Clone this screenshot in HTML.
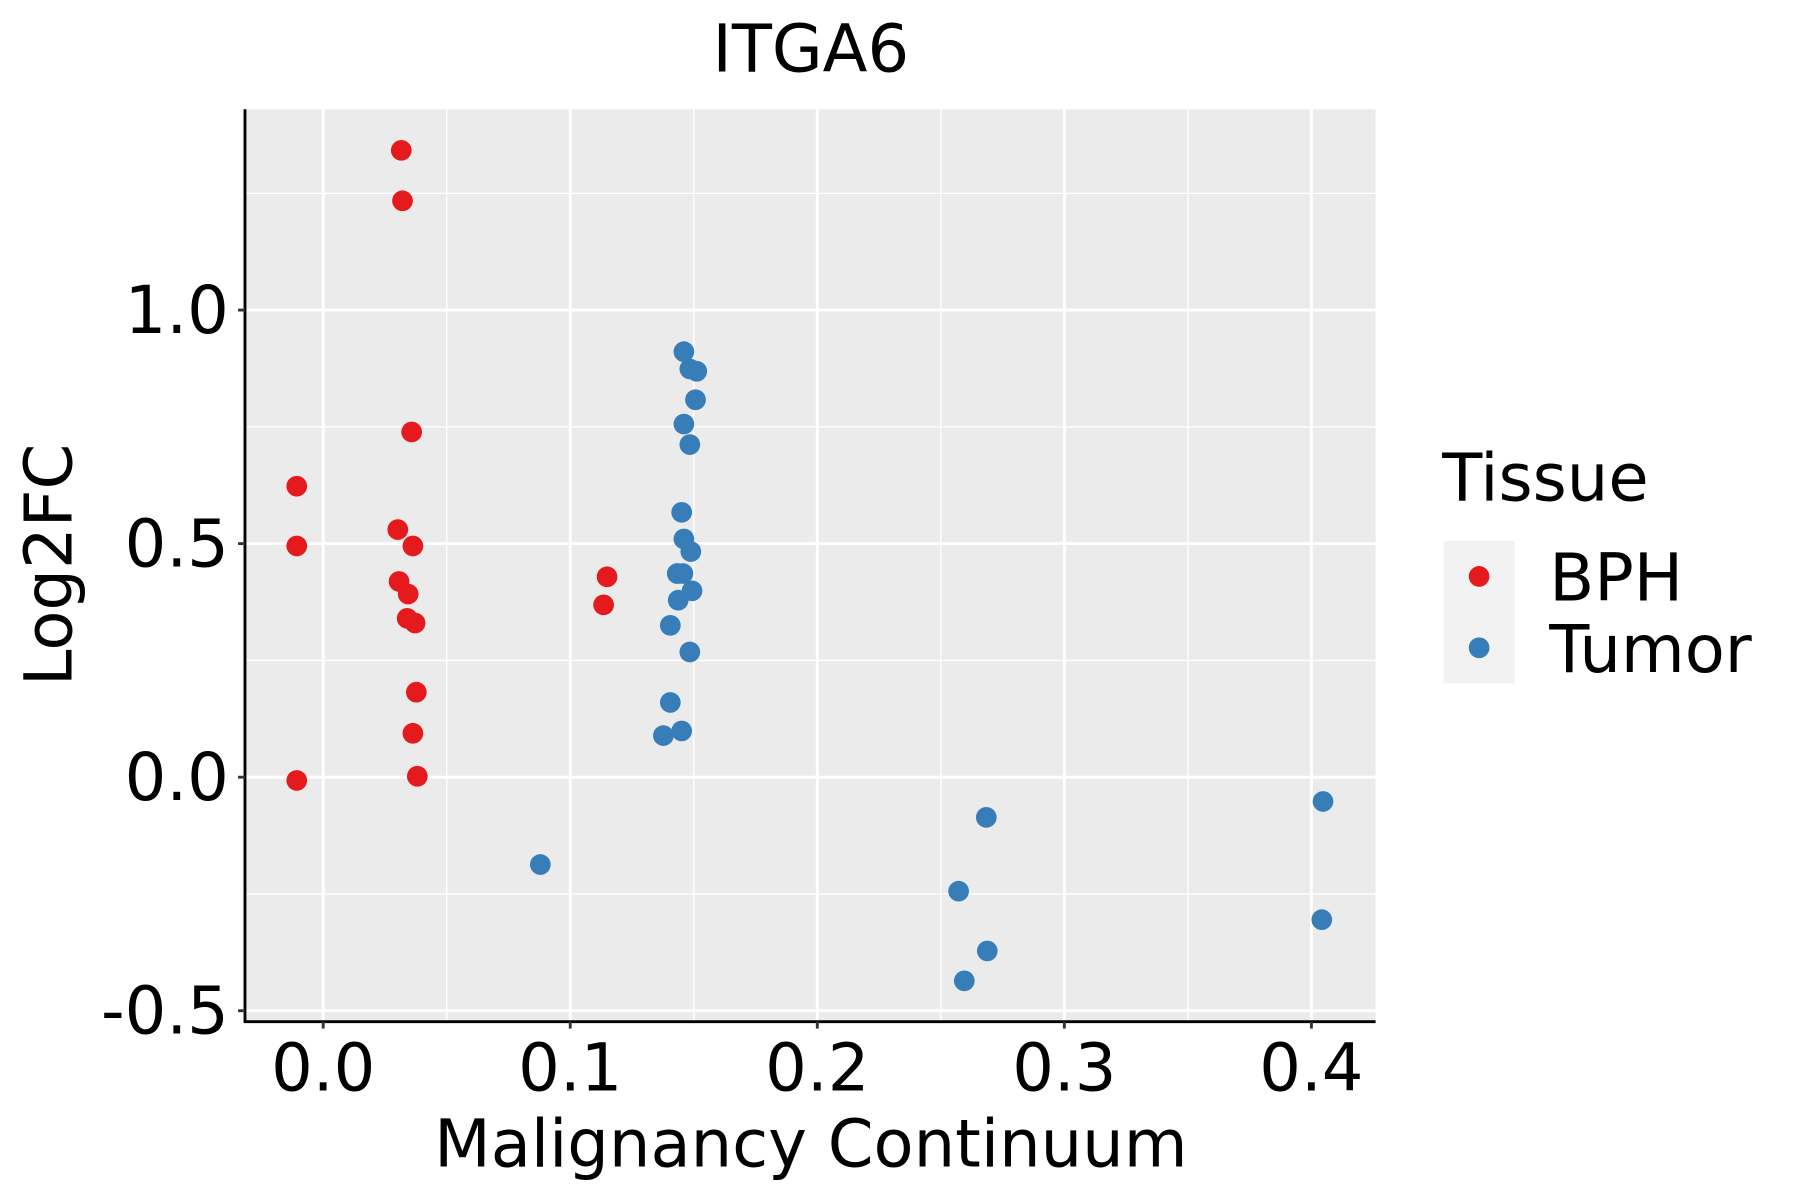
<!DOCTYPE html>
<html><head><meta charset="utf-8"><style>
html,body{margin:0;padding:0;background:#fff;}
svg{display:block;font-family:"DejaVu Sans","Liberation Sans",sans-serif;}
</style></head><body>
<svg id="chart" width="1800" height="1200" viewBox="0 0 1565 1043" preserveAspectRatio="none" xmlns="http://www.w3.org/2000/svg">
<rect x="0" y="0" width="1565" height="1043" fill="#fff"/>
<rect x="213" y="95" width="983" height="793" fill="#ebebeb"/>
<g id="grid"></g>
<g id="points"></g>
<line x1="213" y1="95" x2="213" y2="889" stroke="#000" stroke-width="2.5"/>
<line x1="212" y1="888" x2="1196" y2="888" stroke="#000" stroke-width="2.5"/>
<g id="ticks"></g>
<text x="705" y="62" font-size="57" text-anchor="middle" fill="#000">ITGA6</text>
<text x="705" y="1014" font-size="57" text-anchor="middle" fill="#000">Malignancy Continuum</text>
<text transform="translate(62,491) rotate(-90)" font-size="57" text-anchor="middle" fill="#000">Log2FC</text>
<g>
<text x="1254" y="435" font-size="57" fill="#000">Tissue</text>
<rect x="1255" y="470" width="62" height="62" fill="#f2f2f2"/>
<rect x="1255" y="532" width="62" height="62" fill="#f2f2f2"/>
<circle cx="1286" cy="501" r="9" fill="#E41A1C"/>
<circle cx="1286" cy="563" r="9" fill="#377EB8"/>
<text x="1347" y="522" font-size="57" fill="#000">BPH</text>
<text x="1347" y="584" font-size="57" fill="#000">Tumor</text>
</g>
</svg>
<script>
const xTicks = [0.0, 0.1, 0.2, 0.3, 0.4];
const xTickLabels = ["0.0", "0.1", "0.2", "0.3", "0.4"];
const yTicks = [-0.5, 0.0, 0.5, 1.0];
const yTickLabels = ["-0.5", "0.0", "0.5", "1.0"];
const bphX = [0.0316, 0.0321, 0.0358, -0.0107, -0.0107, 0.0302, 0.0363, 0.0307, 0.0344, 0.034, 0.0372, 0.0377, 0.0363, 0.0381, -0.0107, 0.1149, 0.1135];
const bphY = [1.342, 1.234, 0.739, 0.623, 0.495, 0.530, 0.495, 0.419, 0.392, 0.340, 0.330, 0.182, 0.094, 0.002, -0.007, 0.429, 0.369];
const tumorX = [0.146, 0.1484, 0.1512, 0.1507, 0.146, 0.1484, 0.1451, 0.146, 0.1488, 0.1433, 0.1456, 0.1437, 0.1493, 0.1405, 0.1484, 0.1405, 0.1377, 0.1451, 0.0879, 0.2684, 0.2572, 0.2688, 0.2595, 0.4047, 0.4042];
const tumorY = [0.911, 0.874, 0.869, 0.808, 0.756, 0.712, 0.567, 0.510, 0.483, 0.436, 0.436, 0.379, 0.399, 0.325, 0.268, 0.160, 0.089, 0.099, -0.187, -0.086, -0.244, -0.372, -0.436, -0.052, -0.305];

const NS = "http://www.w3.org/2000/svg";
const xScale = v => 281 + v * 2148;
const yScale = v => 675.5 - v * 406;
const grid = document.getElementById('grid');
const ticks = document.getElementById('ticks');
const pts = document.getElementById('points');
function mk(tag, attrs, parent) {
  const e = document.createElementNS(NS, tag);
  for (const k in attrs) e.setAttribute(k, attrs[k]);
  parent.appendChild(e);
  return e;
}
for (let i = 0; i < xTicks.length - 1; i++) {
  const m = (xTicks[i] + xTicks[i + 1]) / 2;
  const l = mk('line', {x1: xScale(m), x2: xScale(m), y1: 95, y2: 888, stroke: '#fff', 'stroke-width': 1.2}, grid);
  
  
}
const yMinor = [-0.25, 0.25, 0.75, 1.25];
yMinor.forEach(m => {
  const l = mk('line', {x1: 213, x2: 1196, y1: yScale(m), y2: yScale(m), stroke: '#fff', 'stroke-width': 1.2}, grid);
  
  
});
xTicks.forEach((v, i) => {
  const x = xScale(v);
  const g = mk('line', {x1: x, x2: x, y1: 95, y2: 888, stroke: '#fff', 'stroke-width': 2.5}, grid);
  
  
  const t = mk('line', {x1: x, x2: x, y1: 888, y2: 894, stroke: '#333', 'stroke-width': 2.5}, ticks);
  
  
  const tx = mk('text', {x: x, y: 948, 'font-size': 57, 'text-anchor': 'middle', fill: '#000'}, ticks);
  tx.textContent = xTickLabels[i];
  
  
});
yTicks.forEach((v, i) => {
  const y = yScale(v);
  const g = mk('line', {x1: 213, x2: 1196, y1: y, y2: y, stroke: '#fff', 'stroke-width': 2.5}, grid);
  
  
  const t = mk('line', {x1: 207, x2: 213, y1: y, y2: y, stroke: '#333', 'stroke-width': 2.5}, ticks);
  
  
  const tx = mk('text', {x: 199, y: y + 20, 'font-size': 57, 'text-anchor': 'end', fill: '#000'}, ticks);
  tx.textContent = yTickLabels[i];
  
  
});
bphX.forEach((v, i) => {
  const c = mk('circle', {cx: xScale(v), cy: yScale(bphY[i]), r: 9, fill: '#E41A1C'}, pts);
  
  
});
tumorX.forEach((v, i) => {
  const c = mk('circle', {cx: xScale(v), cy: yScale(tumorY[i]), r: 9, fill: '#377EB8'}, pts);
  
  
});
</script>
</body></html>
